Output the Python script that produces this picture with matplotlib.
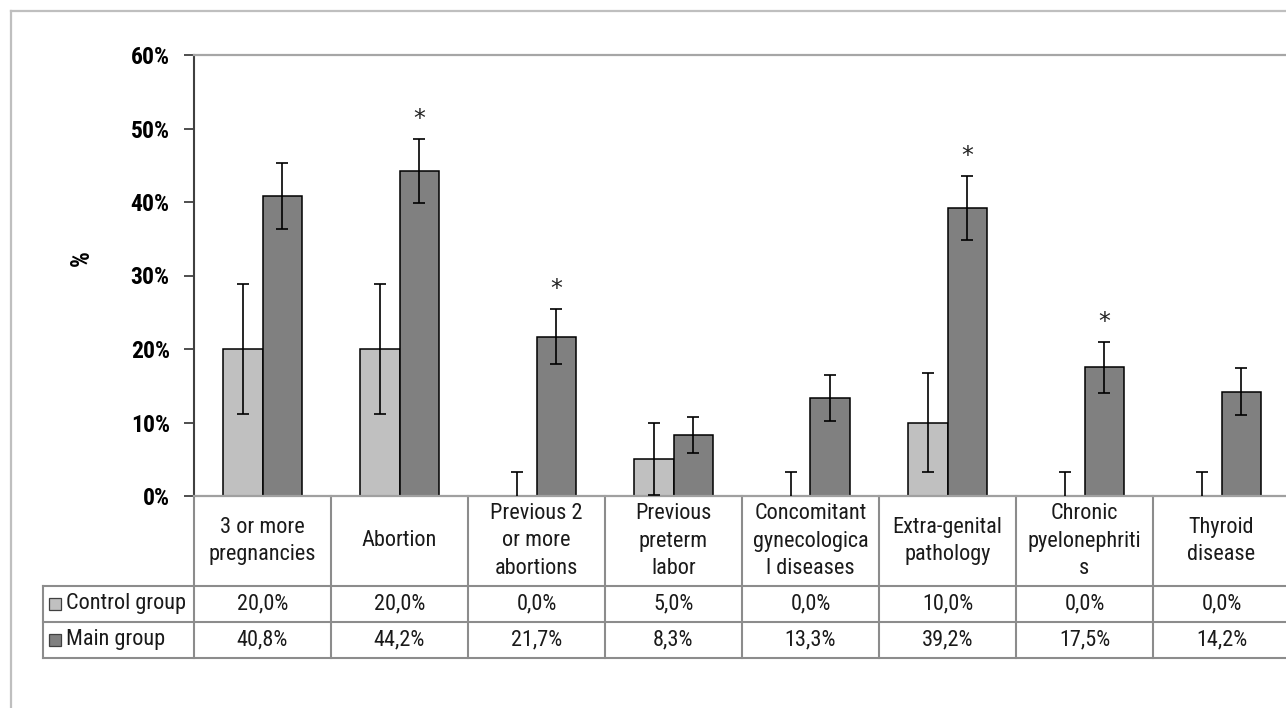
import matplotlib
matplotlib.use("Agg")
import matplotlib.pyplot as plt
import matplotlib.transforms as mtransforms
from matplotlib import font_manager
from matplotlib.lines import Line2D

# data
categories = ["3 or more\npregnancies", "Abortion", "Previous 2\nor more\nabortions",
              "Previous\npreterm\nlabor", "Concomitant\ngynecologica\nl diseases",
              "Extra-genital\npathology", "Chronic\npyelonephriti\ns", "Thyroid\ndisease"]
control = [20.0, 20.0, 0.0, 5.0, 0.0, 10.0, 0.0, 0.0]
main = [40.8, 44.2, 21.7, 8.3, 13.3, 39.2, 17.5, 14.2]
control_err = [8.9, 8.9, 3.3, 4.9, 3.3, 6.7, 3.3, 3.3]
main_err = [4.5, 4.4, 3.7, 2.4, 3.1, 4.4, 3.5, 3.2]
significant = [False, True, True, False, False, True, True, False]
series_names = ["Control group", "Main group"]
yticks = [0, 10, 20, 30, 40, 50, 60]

# look for a narrow face (the original uses Arial Narrow)
fonts = font_manager.fontManager.ttflist
names = {f.name for f in fonts}
stretch = "normal"
if "Liberation Sans Narrow" in names:
    fam, fs, lfs, tfs = "Liberation Sans Narrow", 16.5, 16.5, 16.5
elif "Roboto Condensed" in names:
    fam, fs, lfs, tfs = "Roboto Condensed", 16, 16, 17
elif any(f.name == "DejaVu Sans" and str(f.stretch) in ("condensed", "semi-condensed") for f in fonts):
    fam, fs, lfs, tfs = "DejaVu Sans", 14, 13.5, 14
    stretch = "condensed"
else:
    fam, fs, lfs, tfs = "Liberation Sans", 15, 14.3, 15
plt.rcParams['font.family'] = [fam, 'DejaVu Sans']
plt.rcParams['font.stretch'] = stretch

W, H = 1286, 708
fig = plt.figure(figsize=(W / 100, H / 100), dpi=100)
ax = fig.add_axes([194 / W, 1 - 496 / H, (1290 - 194) / W, (496 - 55) / H])

light, dark = "#C0C0C0", "#808080"
n = len(categories)
x = list(range(n))
bw = 0.29
xc = [i - bw / 2 for i in x]
xm = [i + bw / 2 for i in x]

ax.bar(xc, control, width=bw, color=light, edgecolor="black", linewidth=1.1, zorder=2)
ax.bar(xm, main, width=bw, color=dark, edgecolor="black", linewidth=1.1, zorder=2)
ek = dict(fmt="none", ecolor="black", elinewidth=1.2, capsize=4.5, capthick=1.2, zorder=3)
ax.errorbar(xc, control, yerr=control_err, **ek)
ax.errorbar(xm, main, yerr=main_err, **ek)

for xi, m, e, s in zip(xm, main, main_err, significant):
    if s:
        ax.text(xi, m + e + 2.7, "*", ha="center", va="center", fontsize=17,
                color="#222222", family="DejaVu Sans")

ax.set_xlim(-0.5, n - 0.5)
ax.set_ylim(0, 60)
ax.set_yticks(yticks)
ax.set_yticklabels([f"{t}%" for t in yticks], fontweight="bold", fontsize=tfs)
ax.set_xticks([])
ax.tick_params(axis="y", length=7, width=1.3, color="#404040", pad=10.5)

ax.spines["right"].set_visible(False)
ax.spines["left"].set_color("#404040")
ax.spines["left"].set_linewidth(1.5)
ax.spines["top"].set_color("#A6A6A6")
ax.spines["top"].set_linewidth(1.6)
ax.spines["bottom"].set_color("#A0A0A0")
ax.spines["bottom"].set_linewidth(1.6)

fig.text(82 / W, 1 - 258 / H, "%", rotation=90, fontweight="bold", fontsize=tfs + 1,
         ha="center", va="center")

# data table below the plot
tr = mtransforms.blended_transform_factory(ax.transData, ax.transAxes)
ah = 496 - 55
y_head = -(586 - 496) / ah
y_r1 = -(622 - 496) / ah
y_r2 = -(658 - 496) / ah
x_leg = -0.5 - (194 - 43) / 137
gc = "#8C8C8C"
glw = 1.5
for k in range(n + 1):
    ax.add_line(Line2D([k - 0.5, k - 0.5], [0, y_r2], transform=tr, color=gc, lw=glw, clip_on=False))
ax.add_line(Line2D([x_leg, x_leg], [y_head, y_r2], transform=tr, color=gc, lw=glw, clip_on=False))
for yy in (y_head, y_r1, y_r2):
    ax.add_line(Line2D([x_leg, n - 0.5], [yy, yy], transform=tr, color=gc, lw=glw, clip_on=False))

y_htxt = -(541 - 496) / ah
y_t1 = -(604 - 496) / ah
y_t2 = -(640 - 496) / ah
tcol = "#1A1A1A"
for xi, lab in zip(x, categories):
    ax.text(xi, y_htxt, lab, transform=tr, ha="center", va="center", fontsize=fs,
            color=tcol, linespacing=1.42)
for yy, vals in ((y_t1, control), (y_t2, main)):
    for xi, v in zip(x, vals):
        ax.text(xi, yy, f"{v:.1f}%".replace(".", ","), transform=tr, ha="center",
                va="center", fontsize=fs, color=tcol)

key_x = -0.5 - (194 - 55) / 137
txt_x = -0.5 - (194 - 66) / 137
for yy, name, col in ((y_t1, series_names[0], light), (y_t2, series_names[1], dark)):
    ax.plot([key_x], [yy], marker="s", markersize=8, markerfacecolor=col,
            markeredgecolor="#404040", markeredgewidth=0.9, transform=tr, clip_on=False)
    ax.text(txt_x, yy, name, transform=tr, ha="left", va="center", fontsize=lfs, color=tcol)

# outer chart border
bc = "#BFBFBF"
fig.add_artist(Line2D([11 / W, 1], [1 - 11 / H, 1 - 11 / H], color=bc, lw=1.6))
fig.add_artist(Line2D([11 / W, 11 / W], [1 - 11 / H, 0], color=bc, lw=1.6))

fig.savefig("out.png", dpi=100)
